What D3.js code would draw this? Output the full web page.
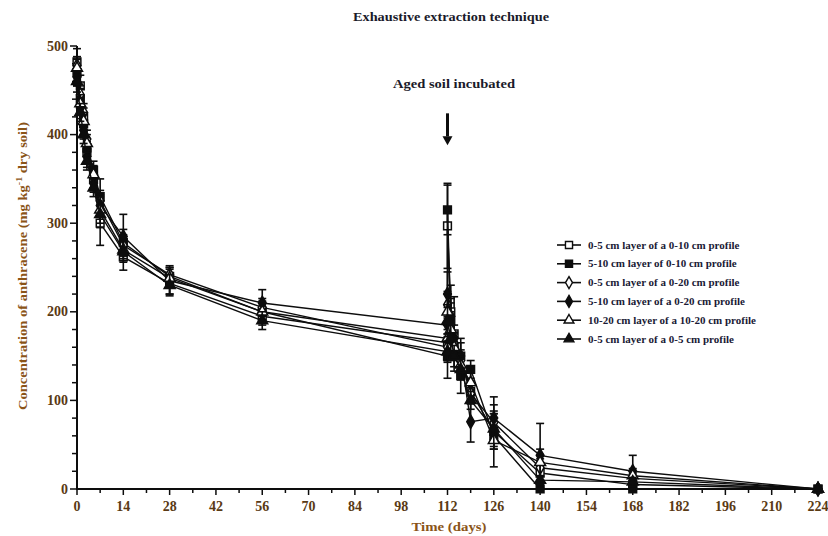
<!DOCTYPE html>
<html>
<head>
<meta charset="utf-8">
<script src="https://cdn.jsdelivr.net/npm/d3@7"></script>
<style>
  body { margin: 0; background: #fff; }
  svg text { font-family: "Liberation Serif", "DejaVu Serif", serif; }
</style>
</head>
<body>
<div id="chart"></div>
<script>
// sampling days (112 appears twice: before and right after the aged soil was added)
const days = [0, 1, 2, 3, 5, 7, 14, 28, 56, 112, 112, 113, 114, 116, 119, 126, 140, 168, 224];

const seriesNames = [
  "0-5 cm layer of a 0-10 cm profile",
  "5-10 cm layer of 0-10 cm profile",
  "0-5 cm layer of a 0-20 cm profile",
  "5-10 cm layer of a 0-20 cm profile",
  "10-20 cm layer of a 10-20 cm profile",
  "0-5 cm layer of a 0-5 cm profile"
];

const s1 = [482, 455, 420, 380, 350, 300, 262, 232, 195, 165, 297, 200, 175, 150, 110, 65, 18, 5, 0];
const s2 = [470, 440, 412, 385, 360, 330, 278, 240, 200, 150, 315, 190, 160, 128, 135, 60, 0, 0, 0];
const s3 = [478, 445, 425, 395, 355, 325, 275, 242, 205, 160, 208, 185, 165, 145, 108, 75, 24, 12, 0];
const s4 = [465, 430, 405, 375, 345, 320, 285, 235, 210, 185, 220, 195, 170, 150, 76, 80, 38, 20, 0];
const s5 = [475, 435, 415, 390, 355, 315, 270, 238, 200, 170, 200, 180, 160, 140, 120, 55, 30, 15, 0];
const s6 = [460, 425, 400, 370, 340, 310, 268, 230, 190, 155, 190, 170, 150, 135, 100, 68, 10, 8, 0];

const e1 = [15, 12, 10, 12, 10, 25, 15, 12, 10, 20, 48, 30, 42, 20, 12, 20, 8, 5, 0];
const e2 = [15, 12, 12, 10, 10, 20, 15, 10, 12, 25, 28, 20, 15, 20, 10, 15, 5, 3, 3];
const e3 = [10, 10, 10, 10, 8, 12, 12, 10, 10, 15, 15, 15, 12, 12, 12, 20, 10, 5, 0];
const e4 = [10, 12, 10, 12, 10, 12, 25, 15, 15, 20, 25, 20, 15, 15, 23, 24, 36, 18, 0];
const e5 = [10, 10, 10, 10, 10, 15, 12, 10, 10, 15, 20, 15, 12, 12, 15, 30, 15, 8, 0];
const e6 = [12, 10, 10, 10, 10, 15, 12, 12, 10, 12, 18, 15, 12, 12, 10, 20, 5, 5, 0];

const xTicks = d3.range(0, 225, 14);
const yTicks = [0, 100, 200, 300, 400, 500];

const values = [s1, s2, s3, s4, s5, s6];
const errors = [e1, e2, e3, e4, e5, e6];
const symbols = [d3.symbolSquare, d3.symbolSquare, d3.symbolDiamond, d3.symbolDiamond, d3.symbolTriangle, d3.symbolTriangle];
const filled = [false, true, false, true, false, true];

const width = 828, height = 536;
const svg = d3.select("#chart").append("svg")
  .attr("width", width)
  .attr("height", height);

const x = d3.scaleLinear().domain([0, 224]).range([77, 818]);
const y = d3.scaleLinear().domain([0, 500]).range([489, 46]);

const tickColor = "#5a3a14";
const titleColor = "#8a5418";
const ink = "#0d0d0d";

// title
svg.append("text")
  .attr("x", 451).attr("y", 21)
  .attr("text-anchor", "middle")
  .attr("textLength", 196).attr("lengthAdjust", "spacingAndGlyphs")
  .style("font-size", "12px")
  .style("font-weight", "600")
  .style("fill", "#1a1a2a")
  .text("Exhaustive extraction technique");

// axes lines
svg.append("line")
  .attr("x1", x(0)).attr("x2", x(0))
  .attr("y1", y(500)).attr("y2", y(0) + 1)
  .attr("stroke", ink).attr("stroke-width", 2);
svg.append("line")
  .attr("x1", x(0) - 1).attr("x2", x(224))
  .attr("y1", y(0)).attr("y2", y(0))
  .attr("stroke", ink).attr("stroke-width", 2);

// y ticks
svg.selectAll(".ymin").data(d3.range(0, 501, 20)).enter().append("line")
  .attr("x1", d => x(0) - (d % 100 === 0 ? 7 : 5))
  .attr("x2", x(0))
  .attr("y1", d => y(d)).attr("y2", d => y(d))
  .attr("stroke", ink).attr("stroke-width", 1.5);
svg.selectAll(".ylab").data(yTicks).enter().append("text")
  .attr("x", x(0) - 9)
  .attr("y", d => y(d) + 4.5)
  .attr("text-anchor", "end")
  .style("font-size", "14px")
  .style("font-weight", "600")
  .style("fill", tickColor)
  .text(d => d);

// x ticks
svg.selectAll(".xmin").data(d3.range(0, 225, 7)).enter().append("line")
  .attr("x1", d => x(d)).attr("x2", d => x(d))
  .attr("y1", y(0))
  .attr("y2", d => y(0) + (d % 14 === 0 ? 6 : 4))
  .attr("stroke", ink).attr("stroke-width", 1.5);
svg.selectAll(".xlab").data(xTicks).enter().append("text")
  .attr("x", d => x(d))
  .attr("y", y(0) + 22)
  .attr("text-anchor", "middle")
  .style("font-size", "14px")
  .style("font-weight", "600")
  .style("fill", tickColor)
  .text(d => d);

// axis titles
svg.append("text")
  .attr("x", 449).attr("y", 531)
  .attr("text-anchor", "middle")
  .attr("textLength", 75).attr("lengthAdjust", "spacingAndGlyphs")
  .style("font-size", "13px")
  .style("font-weight", "600")
  .style("fill", titleColor)
  .text("Time (days)");

const yt = svg.append("text")
  .attr("transform", "translate(27,266) rotate(-90)")
  .attr("text-anchor", "middle")
  .attr("textLength", 288).attr("lengthAdjust", "spacingAndGlyphs")
  .style("font-size", "13px")
  .style("font-weight", "600")
  .style("fill", titleColor);
yt.append("tspan").text("Concentration of anthracene (mg kg");
yt.append("tspan").attr("baseline-shift", "super").style("font-size", "9px").text("-1");
yt.append("tspan").text(" dry soil)");

// series
const line = d3.line().x(d => x(d.t)).y(d => y(d.v));

values.forEach((vals, i) => {
  const pts = vals.map((v, j) => ({ t: days[j], v: v, e: errors[i][j] }));
  const g = svg.append("g").attr("class", "series");

  g.append("path")
    .datum(pts)
    .attr("d", line)
    .attr("fill", "none")
    .attr("stroke", ink)
    .attr("stroke-width", 1.4);

  const eb = g.selectAll(".eb").data(pts.filter(p => p.e > 0)).enter().append("g");
  eb.append("line")
    .attr("x1", d => x(d.t)).attr("x2", d => x(d.t))
    .attr("y1", d => y(Math.max(0, d.v - d.e)))
    .attr("y2", d => y(d.v + d.e))
    .attr("stroke", ink).attr("stroke-width", 1.6);
  eb.append("line")
    .attr("x1", d => x(d.t) - 4).attr("x2", d => x(d.t) + 4)
    .attr("y1", d => y(d.v + d.e)).attr("y2", d => y(d.v + d.e))
    .attr("stroke", ink).attr("stroke-width", 1.6);
  eb.append("line")
    .attr("x1", d => x(d.t) - 4).attr("x2", d => x(d.t) + 4)
    .attr("y1", d => y(Math.max(0, d.v - d.e))).attr("y2", d => y(Math.max(0, d.v - d.e)))
    .attr("stroke", ink).attr("stroke-width", 1.6);

  g.selectAll(".pt").data(pts).enter().append("path")
    .attr("transform", d => `translate(${x(d.t)},${y(d.v)})`)
    .attr("d", d3.symbol().type(symbols[i]).size(symbols[i] === d3.symbolSquare ? 60 : 52))
    .attr("fill", filled[i] ? ink : "#fff")
    .attr("stroke", ink)
    .attr("stroke-width", 1.5);
});

// annotation arrow
svg.append("text")
  .attr("x", 454).attr("y", 88)
  .attr("text-anchor", "middle")
  .attr("textLength", 122).attr("lengthAdjust", "spacingAndGlyphs")
  .style("font-size", "13px")
  .style("font-weight", "600")
  .style("fill", "#1a1a2a")
  .text("Aged soil incubated");
svg.append("line")
  .attr("x1", x(112)).attr("x2", x(112))
  .attr("y1", y(424)).attr("y2", y(398))
  .attr("stroke", ink).attr("stroke-width", 3);
svg.append("path")
  .attr("d", `M${x(112) - 5},${y(398)} L${x(112) + 5},${y(398)} L${x(112)},${y(388)} Z`)
  .attr("fill", ink);

// legend
const legend = svg.append("g").attr("transform", "translate(557,245)");
seriesNames.forEach((name, i) => {
  const row = legend.append("g").attr("transform", `translate(0,${i * 18.8})`);
  row.append("line")
    .attr("x1", 0).attr("x2", 24).attr("y1", 0).attr("y2", 0)
    .attr("stroke", ink).attr("stroke-width", 1.6);
  row.append("path")
    .attr("transform", "translate(12,0)")
    .attr("d", d3.symbol().type(symbols[i]).size(symbols[i] === d3.symbolSquare ? 50 : 42))
    .attr("fill", filled[i] ? ink : "#fff")
    .attr("stroke", ink)
    .attr("stroke-width", 1.4);
  row.append("text")
    .attr("x", 31).attr("y", 3.5)
    .style("font-size", "11px")
    .style("font-weight", "bold")
    .style("fill", "#1a1a36")
    .text(name);
});
</script>
</body>
</html>
